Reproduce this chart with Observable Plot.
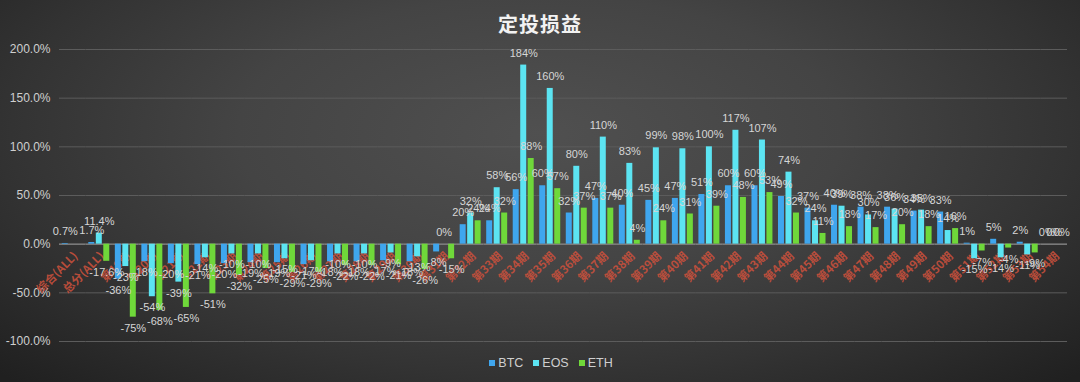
<!DOCTYPE html>
<html>
<head>
<meta charset="utf-8">
<script src="https://cdn.jsdelivr.net/npm/d3@7"></script>
<script src="https://cdn.jsdelivr.net/npm/@observablehq/plot@0.6"></script>
<style>
  html, body { margin: 0; padding: 0; background: #222; }
  #wrap {
    position: relative; width: 1080px; height: 382px; overflow: hidden;
    background: radial-gradient(ellipse 70% 90% at 50% 35%, #505050 0%, #444 40%, #333 70%, #202020 100%);
    font-family: "Liberation Sans", "Noto Sans CJK SC", sans-serif;
  }
  #title {
    position: absolute; top: 9px; left: 0; width: 1080px; text-align: center;
    color: #f2f2f2; font-size: 20px; font-weight: bold; letter-spacing: 1px;
    font-family: "Noto Sans CJK SC", sans-serif;
  }
  #chart { position: absolute; left: 0; top: 0; }
  #legend {
    position: absolute; top: 356px; left: 0; width: 1080px; text-align: center;
    color: #cfcfcf; font-size: 12.5px; padding-left: 22px; box-sizing: border-box;
  }
  #legend span.item { margin: 0 5px; }
  #legend span.sw { display: inline-block; width: 6px; height: 6px; margin-right: 3px; vertical-align: 1px; }
</style>
</head>
<body>
<div id="wrap">
  <div id="chart"></div>
  <div id="title">定投损益</div>
  <div id="legend"></div>
</div>
<script>
const categories = ["综合(ALL)", "总分(ALL)",
  "第19期","第20期","第21期","第22期","第23期","第24期","第25期","第26期","第27期","第28期",
  "第29期","第30期","第31期","第32期","第33期","第34期","第35期","第36期","第37期","第38期",
  "第39期","第40期","第41期","第42期","第43期","第44期","第45期","第46期","第47期","第48期",
  "第49期","第50期","第51期","第52期","第53期","第54期"];
const series = ["BTC", "EOS", "ETH"];
const btc = [0.7, 1.7, -36, -18, -20, -21, -20, -19, -19, -21, -18, -18, -17, -18, -8,
  20, 24, 56, 60, 32, 47, 40, 45, 47, 51, 60, 60, 49, 37, 40, 38, 38, 34, 33, 1, 5, 2, 0];
const eos = [null, 11.4, -23, -54, -39, -14, -10, -10, -15, -17, -10, -10, -9, -13, 0,
  32, 58, 184, 160, 80, 110, 83, 99, 98, 100, 117, 107, 74, 24, 39, 30, 36, 35, 14, -15, -14, -11, 0];
const eth = [null, -17.6, -75, -68, -65, -51, -32, -25, -29, -29, -22, -22, -21, -26, -15,
  24, 32, 88, 57, 37, 37, 4, 24, 31, 39, 48, 53, 32, 11, 18, 17, 20, 18, 16, -7, -4, -9, 0];
const yTicks = [-100, -50, 0, 50, 100, 150, 200];
const colors = ["#3fa6ee", "#5ce4f2", "#6fd83a"];

const valuesBySeries = {BTC: btc, EOS: eos, ETH: eth};
const rows = [];
categories.forEach((c, i) => {
  series.forEach(s => {
    const v = valuesBySeries[s][i];
    if (v !== null && v !== undefined) rows.push({cat: c, series: s, value: v});
  });
});
const fmt = v => (Number.isInteger(v) ? String(v) : v.toFixed(1)) + "%";

const chart = Plot.plot({
  width: 1080,
  height: 382,
  marginTop: 49,
  marginBottom: 41,
  marginLeft: 59,
  marginRight: 13,
  style: {background: "transparent", color: "#cfcfcf", fontSize: "12px",
          fontFamily: "'Liberation Sans', 'Noto Sans CJK SC', sans-serif"},
  fx: {domain: categories, paddingInner: 0, paddingOuter: 0, axis: null, round: false, label: null},
  x: {domain: series, paddingInner: 0.2, paddingOuter: 0.37, axis: null, round: false},
  y: {domain: [-100, 200], ticks: yTicks, tickFormat: d => d.toFixed(1) + "%",
      tickSize: 0, tickPadding: 9, label: null, grid: false},
  color: {domain: series, range: colors},
  marks: [
    Plot.ruleY(yTicks.filter(d => d !== 0), {stroke: "#5c5c5c", strokeWidth: 1}),
    Plot.ruleY([0], {stroke: "#808080", strokeWidth: 1.5}),
    Plot.text(categories, {fx: d => d, y: () => 0, text: d => d, rotate: -45, textAnchor: "end",
      dx: 3, dy: 10, fill: "#c9503c", fontSize: 11.5, fontWeight: "bold",
      fontFamily: "'Noto Sans CJK SC', sans-serif", fillOpacity: 0.9}),
    Plot.barY(rows, {fx: "cat", x: "series", y: "value", fill: "series"}),
    Plot.text(rows.filter(d => d.value >= 0), {fx: "cat", x: "series", y: "value", text: d => fmt(d.value),
      dy: -12, fill: "#d6d6d6", fontSize: 11}),
    Plot.text(rows.filter(d => d.value < 0), {fx: "cat", x: "series", y: "value", text: d => fmt(d.value),
      dy: 11, fill: "#d6d6d6", fontSize: 11})
  ]
});
document.getElementById("chart").appendChild(chart);

const legend = document.getElementById("legend");
legend.innerHTML = series.map((s, i) =>
  `<span class="item"><span class="sw" style="background:${colors[i]}"></span>${s}</span>`).join("");
</script>
</body>
</html>
